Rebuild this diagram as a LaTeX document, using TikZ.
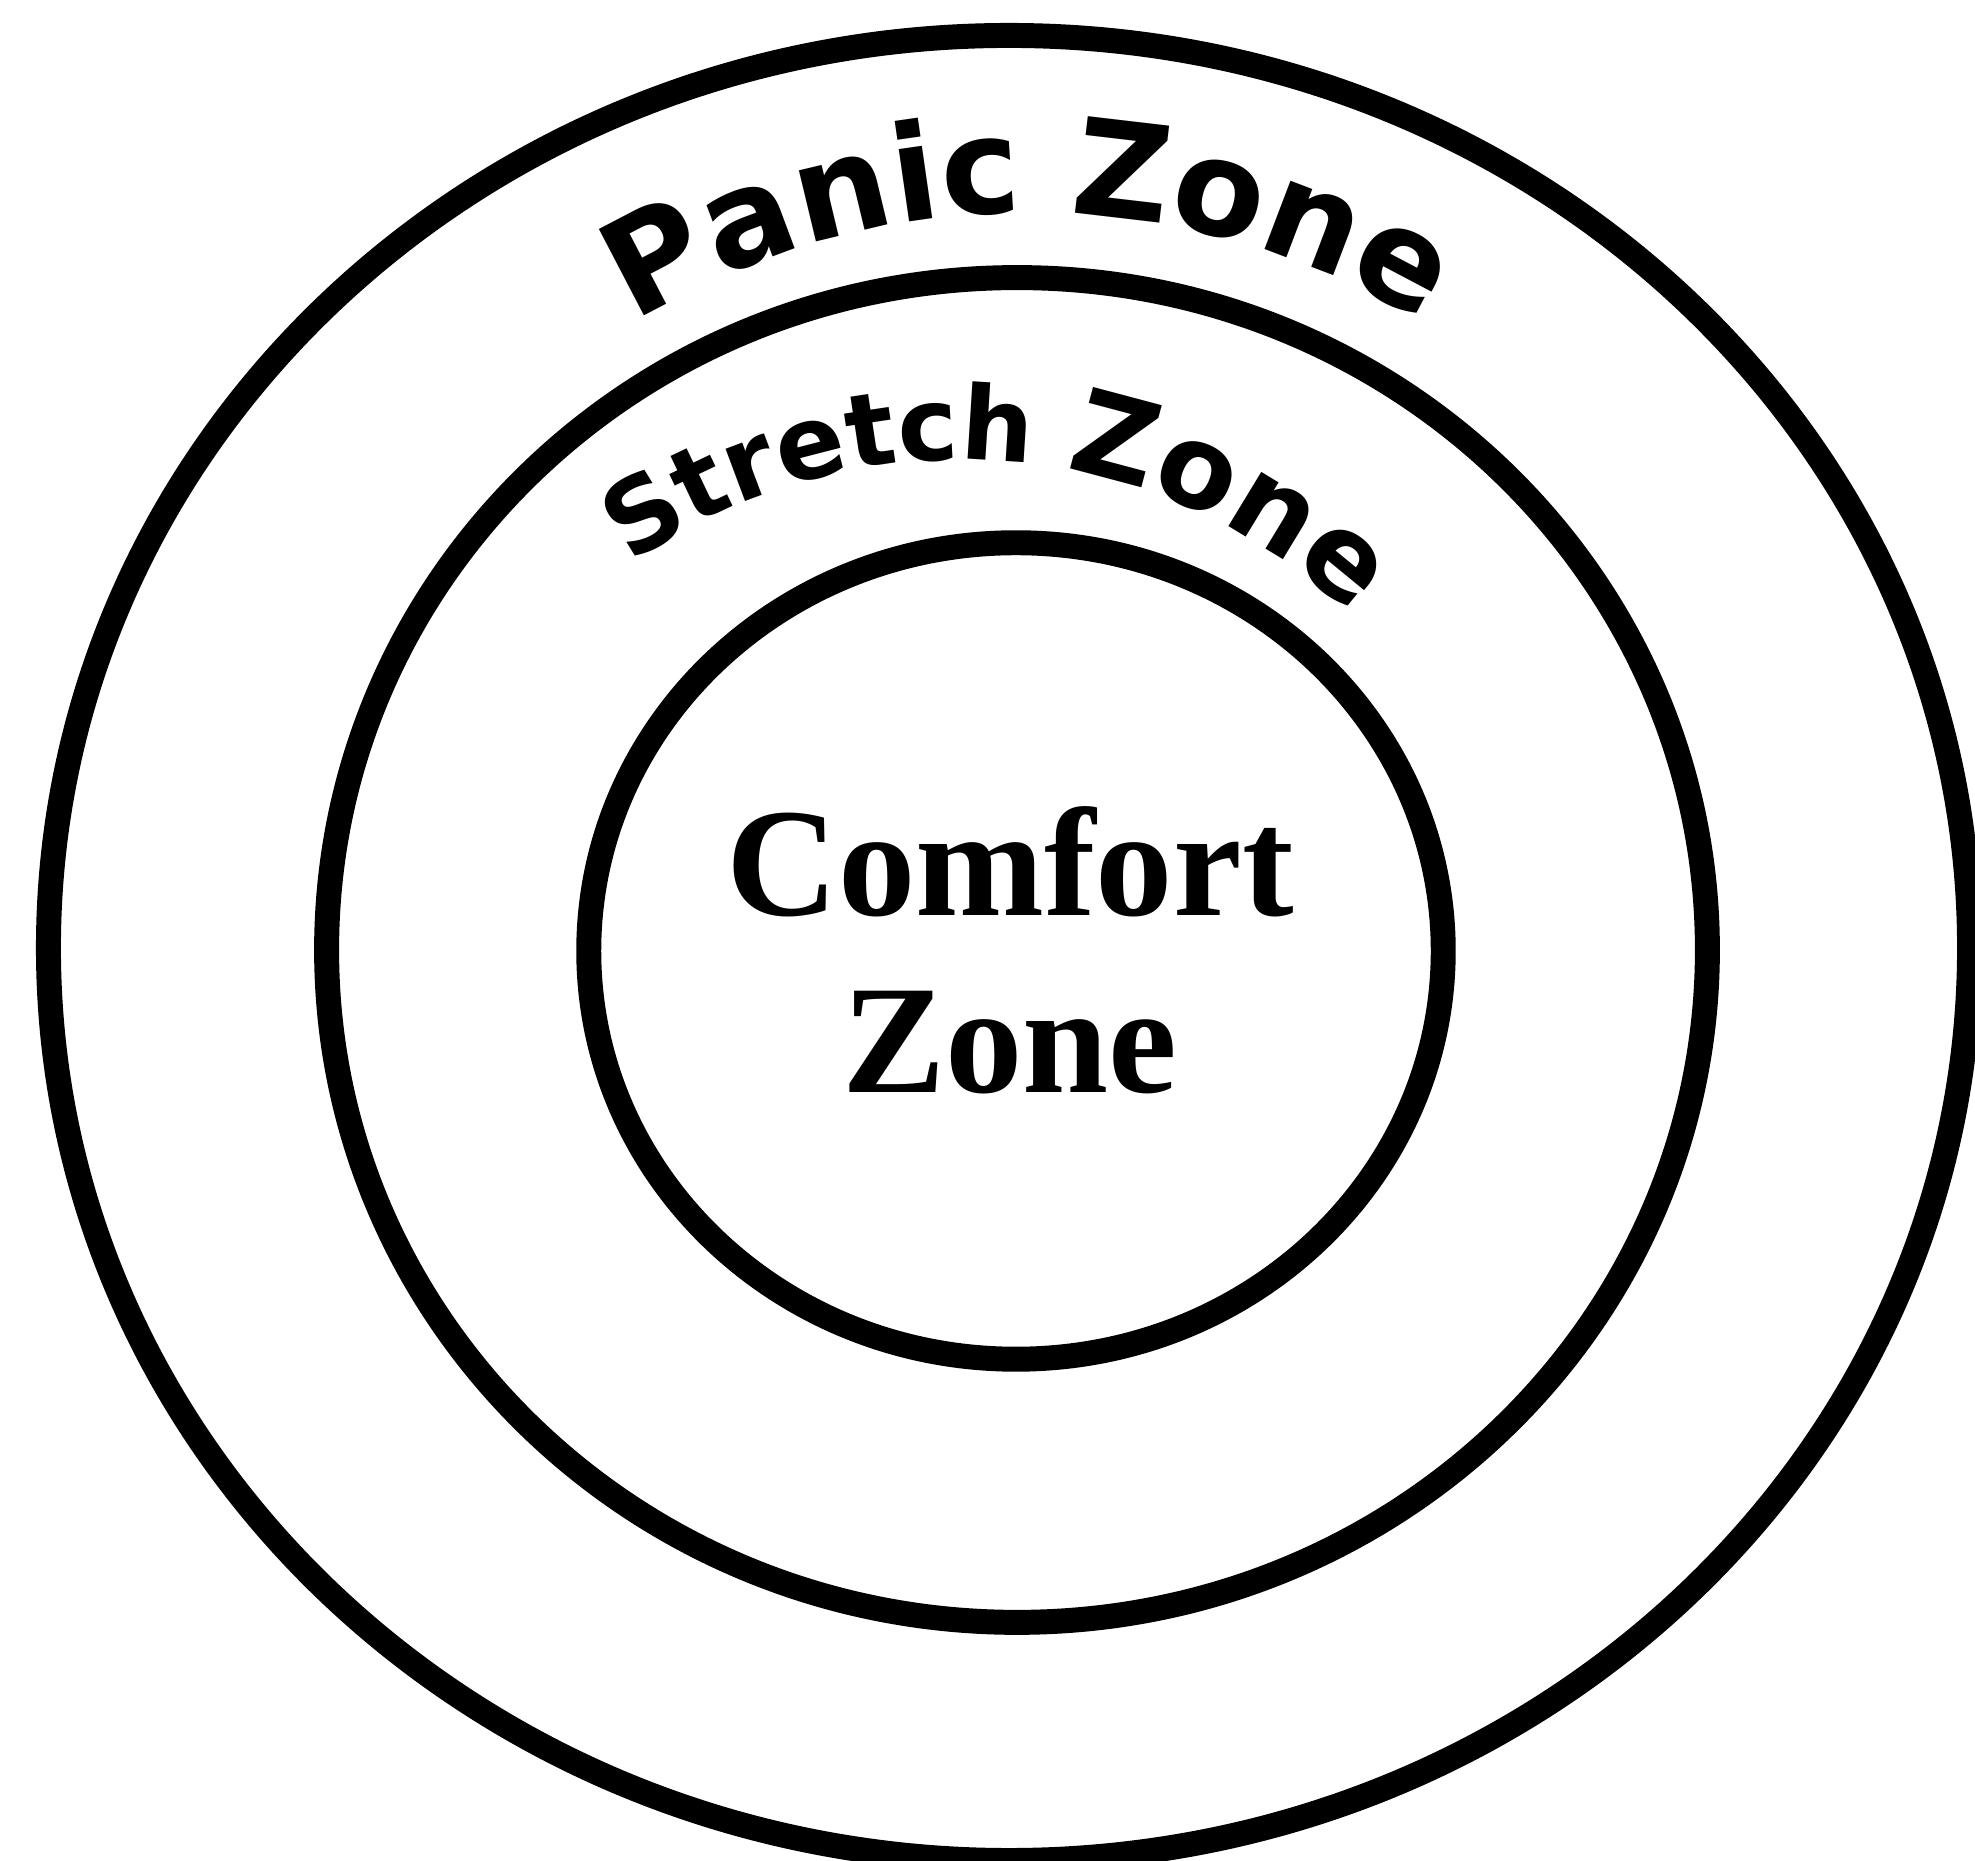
\documentclass[tikz,border=0pt]{standalone}
\usepackage{fontspec}
\usetikzlibrary{decorations.text}
\newfontfamily\zonesans{DejaVu Sans}
\newfontfamily\zoneserif{Liberation Serif}

\begin{document}
\begin{tikzpicture}[
  x=0.01cm, y=0.01cm,
  ring/.style={draw=black, line width=7.1pt},
  arclabel/.style={
    decorate, decoration={text along path, text align=center,
    text format delimiters={|}{|}}
  },
  corelabel/.style={
    font=\zoneserif\bfseries\fontsize{44pt}{50.4pt}\selectfont,
    align=center, inner sep=0pt
  },
]

% ---------------------------------------------------------------
% Canvas 1975 x 1861, 1 unit = 0.01cm, y counted up from the bottom
% ---------------------------------------------------------------
\useasboundingbox (0,0) rectangle (1975,1861);

% ===== Zone rings (outer -> inner) =====
\draw[ring] (1009,913) ellipse [x radius=9.60cm, y radius=9.12cm];
\draw[ring] (1017,911) ellipse [x radius=6.90cm, y radius=6.72cm];
\draw[ring] (1016,910) ellipse [x radius=4.27cm, y radius=4.08cm];

% ===== Arched labels =====
\path[arclabel, decoration={text={|\zonesans\bfseries\fontsize{38pt}{38pt}\selectfont|Panic Zone}}]
  (1029,888) ++(140:7.60cm) arc[start angle=140, end angle=40, radius=7.60cm];
% stretch band: both words on one circle, second word a bit wider
\path[arclabel, decoration={text={|\zonesans\bfseries\fontsize{29pt}{29pt}\selectfont|Stretch}}]
  (960,831) ++(130:5.70cm) arc[start angle=130, end angle=78, radius=5.70cm];
\path[arclabel, decoration={text={|\zonesans\bfseries\fontsize{33pt}{33pt}\selectfont|Zone}}]
  (960,831) ++(85:5.70cm) arc[start angle=85, end angle=41, radius=5.70cm];

% ===== Centre label =====
\node[corelabel] (comfort) at (1010,911) {Comfort\\Zone};

\end{tikzpicture}
\end{document}
